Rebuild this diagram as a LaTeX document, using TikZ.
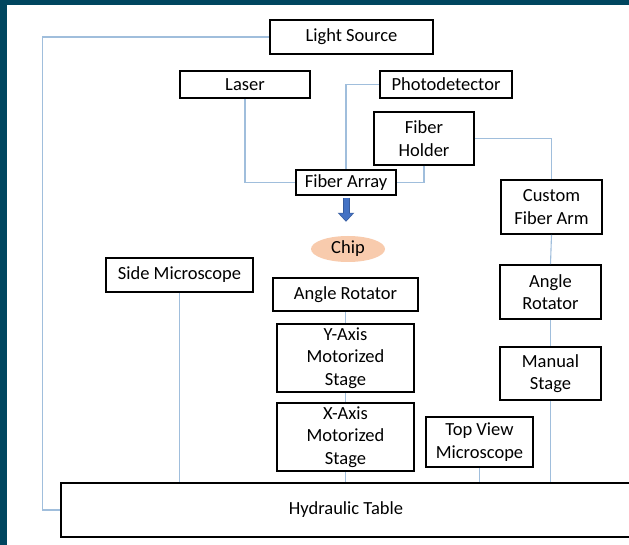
\documentclass[tikz,border=0pt]{standalone}
\usepackage{fontspec}
\setmainfont{Carlito}
\usetikzlibrary{shapes.geometric, arrows.meta, positioning, calc}
\definecolor{frameteal}{RGB}{0,70,95}
\definecolor{linkblue}{RGB}{160,190,220}
\definecolor{chippeach}{RGB}{248,203,173}
\definecolor{arrowblue}{RGB}{68,114,196}

\begin{document}
\begin{tikzpicture}[x=1pt, y=-1pt,
    box/.style={draw, line width=1.8pt, fill=white, align=center, inner sep=0pt, font=\fontsize{18.5}{22.5}\selectfont},
    link/.style={draw=linkblue, line width=1.1pt}]
            % Rahmen
            \useasboundingbox (0,0) rectangle (629,545);
            \fill[white] (0,0) rectangle (629,545);
            \fill[frameteal] (0,0) rectangle (629,5);
            \fill[frameteal] (0,0) rectangle (7,545);

            % Oben
            \node[box, minimum width=163pt, minimum height=34pt] (light) at (351.5, 37) {Light Source};
            \node[box, minimum width=130pt, minimum height=27pt] (laser) at (245, 84.5) {Laser};
            \node[box, minimum width=132pt, minimum height=27pt] (photo) at (446, 84.5) {Photodetector};
            \node[box, minimum width=100pt, minimum height=53pt] (holder) at (424, 138.5) {Fiber\\Holder};
            \node[box, minimum width=100pt, minimum height=25pt] (array) at (346, 182.5) {Fiber Array};

            % Chip
            \node[ellipse, fill=chippeach, minimum width=74pt, minimum height=26pt, inner sep=0pt, font=\fontsize{18.5}{22.5}\selectfont] (chip) at (348, 249) {Chip};

            % Rechte Seite
            \node[box, minimum width=101pt, minimum height=54pt] (arm) at (551.5, 207) {Custom\\Fiber Arm};
            \node[box, minimum width=101pt, minimum height=54pt] (rotright) at (550.5, 292) {Angle\\Rotator};
            \node[box, minimum width=101pt, minimum height=53pt] (manual) at (550.5, 373.5) {Manual\\Stage};

            % Mitte
            \node[box, minimum width=147pt, minimum height=34pt] (side) at (179.5, 275) {Side Microscope};
            \node[box, minimum width=145pt, minimum height=33pt] (rotmid) at (345.5, 294.5) {Angle Rotator};
            \node[box, minimum width=137pt, minimum height=68pt] (ystage) at (345.5, 358) {Y-Axis\\Motorized\\Stage};
            \node[box, minimum width=137pt, minimum height=68pt] (xstage) at (345.5, 437) {X-Axis\\Motorized\\Stage};
            \node[box, minimum width=107pt, minimum height=50pt] (topview) at (479.5, 442) {Top View\\Microscope};

            % Tisch
            \node[box, minimum width=570pt, minimum height=54pt] (table) at (346, 510) {Hydraulic Table};

            % Verbindungen
            \draw[link] (light.west) -- ++(-227,0) |- (table.west);
            \draw[link] (laser.south) |- (array.west);
            \draw[link] (photo.west) -| (array.north);
            \draw[link] (holder.south) |- (array.east);
            \draw[link] (holder.east) -| (arm.north);
            \draw[link] (arm.south) -- (rotright.north);
            \draw[link] (rotright.south) -- (manual.north);
            \draw[link] (manual.south) -- (manual.south |- table.north);
            \draw[link] (side.south) -- (side.south |- table.north);
            \draw[link] (rotmid.south) -- (ystage.north);
            \draw[link] (ystage.south) -- (xstage.north);
            \draw[link] (xstage.south) -- (table.north -| xstage.south);
            \draw[link] (topview.south) -- (topview.south |- table.north);

            \draw[arrowblue!80!black, line width=7pt, -{Triangle[width=16pt, length=9pt]}, shorten <=2pt, shorten >=14pt] (array.south) -- (array.south |- chip.north);
            \draw[arrowblue, line width=5pt, -{Triangle[width=13pt, length=7.5pt]}, shorten <=2.5pt, shorten >=15pt] (array.south) -- (array.south |- chip.north);
        \end{tikzpicture}
\end{document}
